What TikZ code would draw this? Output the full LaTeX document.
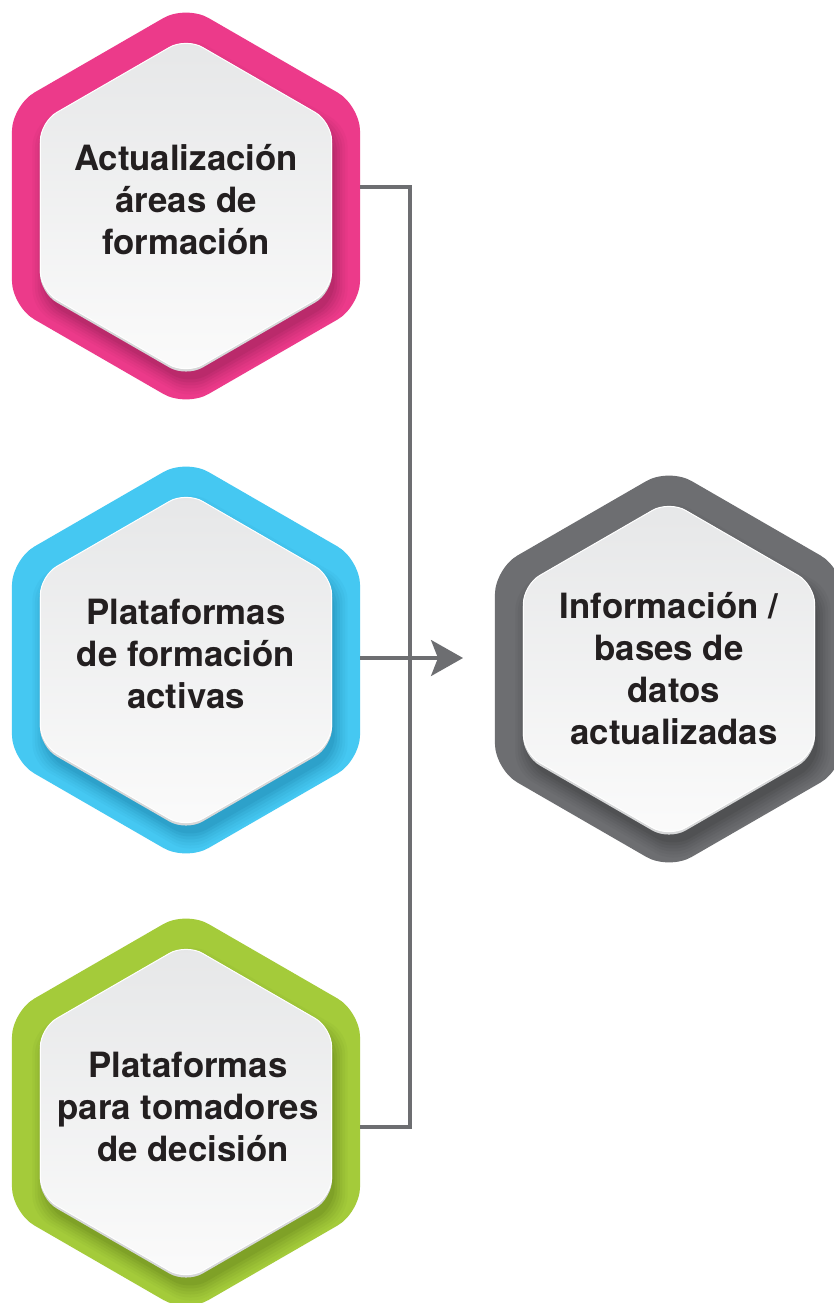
\documentclass[tikz,border=0pt]{standalone}
\usepackage{fontspec}
\setmainfont{TeX Gyre Heros}
\usetikzlibrary{arrows.meta}
\definecolor{pinkc}{HTML}{EC3A8A}
\definecolor{pinks}{HTML}{8E1E50}
\definecolor{bluec}{HTML}{45C8F2}
\definecolor{blues}{HTML}{1A7EA6}
\definecolor{greenc}{HTML}{A4CB3A}
\definecolor{greens}{HTML}{5E7D18}
\definecolor{grayc}{HTML}{6D6E71}
\definecolor{grays}{HTML}{38393B}
\definecolor{inTop}{HTML}{E6E7E8}
\definecolor{inBot}{HTML}{FBFBFB}
\definecolor{bevel}{HTML}{D6D7D8}
\definecolor{linec}{HTML}{6D6E71}
\definecolor{txt}{HTML}{231F20}
\newcommand\hexfill[5]{%
  \path[#1, rounded corners=#5] (#2,#3) +(60:{0.8660254*#4}) -- +(30:#4) -- +(-30:#4) -- +(-90:#4) -- +(-150:#4) -- +(150:#4) -- +(90:#4) -- cycle;}
\newcommand\hexagonbox[4]{%
  \hexfill{fill=#3}{#1}{#2}{201}{26}%
  \foreach \k/\o in {16/0.06,13/0.07,10/0.09,7/0.11,4/0.14,1/0.18}{%
    \hexfill{fill=#4,fill opacity=\o}{#1+4}{#2+12}{166+\k}{19}}%
  \hexfill{fill=bevel}{#1}{#2+2.5}{168.6}{19}%
  \hexfill{top color=inTop,bottom color=inBot,draw=white,line width=1pt}{#1}{#2}{168.2}{19}%
}
\newcommand\lsp{\hspace*{0.28em}}
\tikzset{
  label/.style={align=center, inner sep=0pt, text=txt,
    font=\bfseries\fontsize{34.8}{42}\selectfont},
  conn/.style={draw=linec, line width=3.2pt},
}
\begin{document}
\begin{tikzpicture}[x=1pt,y=-1pt]
\useasboundingbox (0,0) rectangle (834,1303);
\clip (0,0) rectangle (834,1303);
\fill[white] (0,0) rectangle (834,1303);
% hexagons
\hexagonbox{186}{206}{pinkc}{pinks}
\hexagonbox{186}{660}{bluec}{blues}
\hexagonbox{186}{1112}{greenc}{greens}
\hexagonbox{669}{669}{grayc}{grays}
% texts
\node[label] (t1) at (186,200) {Actualización\\áreas de\\formación};
\node[label] (t2) at (186,654) {Plataformas\\de formación\\activas};
\node[label] (t3) at (188,1107) {Plataformas\\para tomadores\\\lsp de decisión};
\node[label] (t4) at (669,669) {Información /\\bases de\\\lsp datos\\\lsp actualizadas};
% connector anchors
\coordinate (pinkE) at (360,187);
\coordinate (blueE) at (360,658);
\coordinate (greenE) at (360,1127);
\coordinate (jTop) at (410,187);
\coordinate (jBot) at (410,1127);
\coordinate (arrTip) at (463,658);
\draw[conn, line cap=butt, line join=miter] (pinkE) -- (jTop) -- (jBot) -- (greenE);
\draw[conn, -{Stealth[length=32pt,width=36pt,inset=7pt]}] (blueE) -- (arrTip);
\end{tikzpicture}
\end{document}
